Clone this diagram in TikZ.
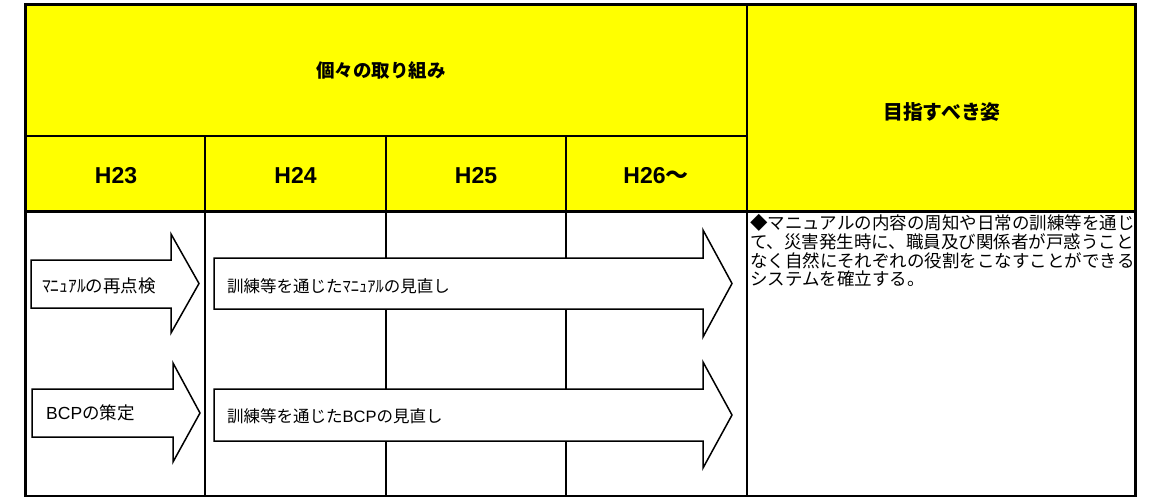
\documentclass[tikz,border=0pt]{standalone}
\usepackage{fontspec}
\setmainfont{Liberation Sans}
\newfontfamily\jp{Noto Sans CJK JP}
\newfontfamily\lat{Liberation Sans}
\definecolor{hdryellow}{HTML}{FFFF00}
\begin{document}
\begin{tikzpicture}[x=1pt,y=-1pt,
  thickline/.style={line width=3pt},
  gridline/.style={line width=1.5pt},
  arrowshape/.style={draw, fill=white, line width=1.5pt, line join=miter},
  lbl/.style={anchor=base west, inner sep=0pt, font=\jp\fontsize{16.5}{18}\selectfont},
  lblbig/.style={anchor=base west, inner sep=0pt, font=\jp\fontsize{17.5}{19}\selectfont},
  hdrtxt/.style={anchor=base, inner sep=0pt, font=\jp\bfseries\fontsize{18.5}{20}\selectfont},
  hdrtxtbig/.style={anchor=base, inner sep=0pt, font=\jp\bfseries\fontsize{19.8}{21}\selectfont},
  yeartxt/.style={anchor=base, inner sep=0pt, font=\lat\bfseries\fontsize{23}{25}\selectfont},
  goaltxt/.style={anchor=base west, inner sep=0pt, font=\jp\fontsize{17.5}{19}\selectfont}]
\useasboundingbox (0,0) rectangle (1150,497);
% header fill
\fill[hdryellow] (25.5,5) rectangle (1135,211);
% grid
\draw[gridline] (25.5,136) -- (747,136);
\draw[gridline] (205,136) -- (205,497);
\draw[gridline] (386,136) -- (386,497);
\draw[gridline] (566,136) -- (566,497);
\draw[line width=2pt] (747,5) -- (747,497);
\draw[gridline] (25.5,496) -- (1135,496);
% arrows
\draw[arrowshape] (31,260) -- (171,260) -- (171,234) -- (199,283.5) -- (171,333) -- (171,308) -- (31,308) -- cycle;
\draw[arrowshape] (32,389) -- (173,389) -- (173,363) -- (200,413) -- (173,462) -- (173,437) -- (32,437) -- cycle;
\draw[arrowshape] (214,258) -- (703,258) -- (703,230) -- (732,283.5) -- (703,337) -- (703,309) -- (214,309) -- cycle;
\draw[arrowshape] (214,389) -- (703,389) -- (703,362) -- (732,415) -- (703,468) -- (703,441) -- (214,441) -- cycle;
% borders
\draw[thickline] (25.5,211) -- (1135,211);
\draw[thickline] (25.5,497) -- (25.5,5) -- (1135,5) -- (1135,497);
% header texts
\node[hdrtxt] (torikumi) at (381,78) {個々の取り組み};
\node[hdrtxtbig] (mezasu) at (942,119.5) {目指すべき姿};
\node[yeartxt] (h23) at (116,184) {H23};
\node[yeartxt] (h24) at (295.5,184) {H24};
\node[yeartxt] (h25) at (476,184) {H25};
\node[yeartxt] (h26) at (656,184) {H26{\jp\bfseries ～}};
% arrow labels
\node[lblbig] (a1) at (42,292) {ﾏﾆｭｱﾙの再点検};
\node[lblbig] (a2) at (46,419) {{\lat BCP}の策定};
\node[lbl] (b1) at (227,292) {訓練等を通じたﾏﾆｭｱﾙの見直し};
\node[lbl] (b2) at (227,422) {訓練等を通じた{\lat BCP}の見直し};
% goal text
\node[goaltxt] (g1) at (750,229.5) {◆マニュアルの内容の周知や日常の訓練等を通じ};
\node[goaltxt] (g2) at (750,248.5) {て、災害発生時に、職員及び関係者が戸惑うこと};
\node[goaltxt] (g3) at (750,267) {なく自然にそれぞれの役割をこなすことができる};
\node[goaltxt] (g4) at (750,285.5) {システムを確立する。};
\end{tikzpicture}
\end{document}
